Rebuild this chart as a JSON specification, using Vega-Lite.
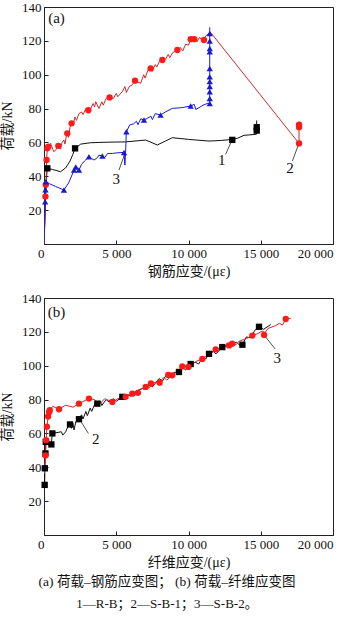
{
  "$schema": "https://vega.github.io/schema/vega-lite/v6.json",
  "padding": {"left": 0, "top": 0, "right": 5, "bottom": 5},
  "background": "white",
  "config": {
    "font": "'Liberation Serif', 'Noto Sans CJK SC', serif",
    "view": {"stroke": "#222", "strokeWidth": 1},
    "axis": {"grid": false, "domainColor": "#222", "tickColor": "#222", "labelFont": "'Liberation Serif', 'Times New Roman', serif", "labelFontSize": 13, "labelColor": "#111", "titleFont": "'Liberation Serif', 'Noto Sans CJK SC', serif", "titleFontSize": 14, "titleFontWeight": "normal", "titleColor": "#111", "tickSize": -4, "labelOverlap": false},
    "axisX": {"labelPadding": 7},
    "axisY": {"labelPadding": 7}
  },
  "title": {"text": "(a) 荷载–钢筋应变图；  (b) 荷载–纤维应变图", "subtitle": "1—R-B；2—S-B-1；3—S-B-2。", "orient": "bottom", "anchor": "middle", "fontSize": 13.5, "fontWeight": "normal", "subtitleFontSize": 13, "subtitlePadding": 10, "offset": 5, "font": "'Liberation Serif', 'Noto Sans CJK SC', serif", "subtitleFont": "'Liberation Serif', 'Noto Sans CJK SC', serif", "color": "#111", "subtitleColor": "#111"},
  "spacing": 12,
  "resolve": {"scale": {"stroke": "independent", "fill": "independent", "shape": "independent"}},
  "datasets": {
    "curveA": [
      {"s":"R-B","x":0,"y":0},{"s":"R-B","x":60,"y":15},{"s":"R-B","x":120,"y":30},{"s":"R-B","x":180,"y":40},{"s":"R-B","x":230,"y":44.7},{"s":"R-B","x":600,"y":44},{"s":"R-B","x":1150,"y":42.7},{"s":"R-B","x":1500,"y":45},{"s":"R-B","x":1800,"y":49},{"s":"R-B","x":2000,"y":53},{"s":"R-B","x":2150,"y":56.5},{"s":"R-B","x":2540,"y":59},{"s":"R-B","x":3200,"y":59.8},{"s":"R-B","x":3800,"y":60},{"s":"R-B","x":4700,"y":60.2},{"s":"R-B","x":5650,"y":60.3},{"s":"R-B","x":6500,"y":61},{"s":"R-B","x":7040,"y":61.4},{"s":"R-B","x":7840,"y":58.5},{"s":"R-B","x":8400,"y":60.8},{"s":"R-B","x":8880,"y":62.8},{"s":"R-B","x":10000,"y":61.8},{"s":"R-B","x":11420,"y":60.8},{"s":"R-B","x":12300,"y":61.2},{"s":"R-B","x":13030,"y":61.8},{"s":"R-B","x":13400,"y":62.5},{"s":"R-B","x":13840,"y":64.2},{"s":"R-B","x":14700,"y":64.8},{"s":"R-B","x":14720,"y":73},
      {"s":"S-B-1","x":0,"y":0},{"s":"S-B-1","x":40,"y":10},{"s":"S-B-1","x":80,"y":20},{"s":"S-B-1","x":115,"y":29},{"s":"S-B-1","x":150,"y":40},{"s":"S-B-1","x":180,"y":49.6},{"s":"S-B-1","x":230,"y":56.5},{"s":"S-B-1","x":300,"y":58},{"s":"S-B-1","x":460,"y":59.4},{"s":"S-B-1","x":600,"y":56},{"s":"S-B-1","x":690,"y":54.5},{"s":"S-B-1","x":850,"y":56},{"s":"S-B-1","x":990,"y":58},{"s":"S-B-1","x":1150,"y":56},{"s":"S-B-1","x":1250,"y":60},{"s":"S-B-1","x":1380,"y":61.4},{"s":"S-B-1","x":1450,"y":59},{"s":"S-B-1","x":1550,"y":64},{"s":"S-B-1","x":1610,"y":65.4},{"s":"S-B-1","x":1700,"y":63},{"s":"S-B-1","x":1800,"y":69},{"s":"S-B-1","x":1910,"y":71.3},{"s":"S-B-1","x":2000,"y":70},{"s":"S-B-1","x":2150,"y":75},{"s":"S-B-1","x":2250,"y":73},{"s":"S-B-1","x":2420,"y":77},{"s":"S-B-1","x":2600,"y":78},{"s":"S-B-1","x":2700,"y":76.5},{"s":"S-B-1","x":2900,"y":80},{"s":"S-B-1","x":3070,"y":79},{"s":"S-B-1","x":3200,"y":79.5},{"s":"S-B-1","x":3400,"y":83},{"s":"S-B-1","x":3500,"y":81},{"s":"S-B-1","x":3580,"y":84},{"s":"S-B-1","x":3800,"y":80},{"s":"S-B-1","x":4000,"y":84},{"s":"S-B-1","x":4100,"y":82},{"s":"S-B-1","x":4300,"y":86},{"s":"S-B-1","x":4540,"y":86.6},{"s":"S-B-1","x":4800,"y":86},{"s":"S-B-1","x":5000,"y":89},{"s":"S-B-1","x":5100,"y":87},{"s":"S-B-1","x":5420,"y":90},{"s":"S-B-1","x":5600,"y":93},{"s":"S-B-1","x":5700,"y":89.5},{"s":"S-B-1","x":5900,"y":93},{"s":"S-B-1","x":6100,"y":94},{"s":"S-B-1","x":6300,"y":96.5},{"s":"S-B-1","x":6500,"y":95.5},{"s":"S-B-1","x":6690,"y":95},{"s":"S-B-1","x":6900,"y":100},{"s":"S-B-1","x":7000,"y":98},{"s":"S-B-1","x":7200,"y":103},{"s":"S-B-1","x":7380,"y":103.7},{"s":"S-B-1","x":7500,"y":102},{"s":"S-B-1","x":7700,"y":106},{"s":"S-B-1","x":7800,"y":104.5},{"s":"S-B-1","x":8000,"y":108},{"s":"S-B-1","x":8190,"y":108.7},{"s":"S-B-1","x":8400,"y":109},{"s":"S-B-1","x":8600,"y":112},{"s":"S-B-1","x":8700,"y":110},{"s":"S-B-1","x":8900,"y":113},{"s":"S-B-1","x":9230,"y":114.6},{"s":"S-B-1","x":9450,"y":116},{"s":"S-B-1","x":9600,"y":114},{"s":"S-B-1","x":9800,"y":118},{"s":"S-B-1","x":10000,"y":117.5},{"s":"S-B-1","x":10150,"y":121},{"s":"S-B-1","x":10300,"y":120},{"s":"S-B-1","x":10500,"y":121},{"s":"S-B-1","x":10600,"y":119.5},{"s":"S-B-1","x":10750,"y":122},{"s":"S-B-1","x":10900,"y":121},{"s":"S-B-1","x":11070,"y":120.5},{"s":"S-B-1","x":11200,"y":123},{"s":"S-B-1","x":11420,"y":124.4},{"s":"S-B-1","x":11530,"y":125},{"s":"S-B-1","x":17650,"y":59.4},{"s":"S-B-1","x":17650,"y":70},
      {"s":"S-B-2","x":0,"y":0},{"s":"S-B-2","x":50,"y":12},{"s":"S-B-2","x":80,"y":25},{"s":"S-B-2","x":100,"y":32},{"s":"S-B-2","x":130,"y":36.8},{"s":"S-B-2","x":400,"y":35.5},{"s":"S-B-2","x":800,"y":34},{"s":"S-B-2","x":1380,"y":31.9},{"s":"S-B-2","x":1700,"y":36},{"s":"S-B-2","x":2000,"y":42},{"s":"S-B-2","x":2080,"y":43.7},{"s":"S-B-2","x":2200,"y":46},{"s":"S-B-2","x":2420,"y":43.7},{"s":"S-B-2","x":2600,"y":47},{"s":"S-B-2","x":2800,"y":49},{"s":"S-B-2","x":3110,"y":51.6},{"s":"S-B-2","x":3300,"y":50.5},{"s":"S-B-2","x":3460,"y":49.6},{"s":"S-B-2","x":3700,"y":51},{"s":"S-B-2","x":3800,"y":52.5},{"s":"S-B-2","x":4040,"y":52},{"s":"S-B-2","x":4200,"y":51},{"s":"S-B-2","x":4400,"y":53.5},{"s":"S-B-2","x":4730,"y":53.5},{"s":"S-B-2","x":5000,"y":53.8},{"s":"S-B-2","x":5540,"y":54.1},{"s":"S-B-2","x":5600,"y":46.6},{"s":"S-B-2","x":5650,"y":55},{"s":"S-B-2","x":5700,"y":66.3},{"s":"S-B-2","x":5930,"y":70.3},{"s":"S-B-2","x":6200,"y":71},{"s":"S-B-2","x":6400,"y":72.5},{"s":"S-B-2","x":6500,"y":70.5},{"s":"S-B-2","x":6700,"y":74},{"s":"S-B-2","x":6920,"y":73.2},{"s":"S-B-2","x":7200,"y":74.5},{"s":"S-B-2","x":7400,"y":75.5},{"s":"S-B-2","x":7500,"y":73.5},{"s":"S-B-2","x":7700,"y":77},{"s":"S-B-2","x":8070,"y":76.2},{"s":"S-B-2","x":8400,"y":78},{"s":"S-B-2","x":8880,"y":80.1},{"s":"S-B-2","x":9500,"y":80.5},{"s":"S-B-2","x":10150,"y":81.5},{"s":"S-B-2","x":10400,"y":82.5},{"s":"S-B-2","x":10500,"y":79.5},{"s":"S-B-2","x":10730,"y":80.5},{"s":"S-B-2","x":11000,"y":82},{"s":"S-B-2","x":11300,"y":83},{"s":"S-B-2","x":11470,"y":83},{"s":"S-B-2","x":11470,"y":124.4},{"s":"S-B-2","x":11470,"y":128}
    ],
    "markA": [
      {"s":"R-B","x":230,"y":44.7},{"s":"R-B","x":2150,"y":56.5},{"s":"R-B","x":13030,"y":61.5},{"s":"R-B","x":14720,"y":67},{"s":"R-B","x":14720,"y":69},
      {"s":"S-B-1","x":100,"y":28},{"s":"S-B-1","x":120,"y":35},{"s":"S-B-1","x":180,"y":49.6},{"s":"S-B-1","x":230,"y":56.5},{"s":"S-B-1","x":300,"y":57.5},{"s":"S-B-1","x":990,"y":58},{"s":"S-B-1","x":1610,"y":65.4},{"s":"S-B-1","x":1910,"y":71.3},{"s":"S-B-1","x":3070,"y":79},{"s":"S-B-1","x":4540,"y":86.6},{"s":"S-B-1","x":6300,"y":96.5},{"s":"S-B-1","x":7380,"y":103.7},{"s":"S-B-1","x":8190,"y":108.7},{"s":"S-B-1","x":9230,"y":114.6},{"s":"S-B-1","x":10150,"y":121},{"s":"S-B-1","x":10400,"y":121},{"s":"S-B-1","x":11070,"y":120.5},{"s":"S-B-1","x":17650,"y":59.4},{"s":"S-B-1","x":17650,"y":69},{"s":"S-B-1","x":17650,"y":70.5},
      {"s":"S-B-2","x":80,"y":25},{"s":"S-B-2","x":100,"y":32},{"s":"S-B-2","x":130,"y":36.8},{"s":"S-B-2","x":1380,"y":31.9},{"s":"S-B-2","x":2080,"y":43.7},{"s":"S-B-2","x":2200,"y":45.5},{"s":"S-B-2","x":2420,"y":43.7},{"s":"S-B-2","x":3110,"y":51.6},{"s":"S-B-2","x":4040,"y":52},{"s":"S-B-2","x":5540,"y":54.1},{"s":"S-B-2","x":5700,"y":66.3},{"s":"S-B-2","x":6920,"y":73.2},{"s":"S-B-2","x":8070,"y":76.2},{"s":"S-B-2","x":10150,"y":81.5},{"s":"S-B-2","x":11470,"y":83},{"s":"S-B-2","x":11470,"y":86},{"s":"S-B-2","x":11470,"y":90},{"s":"S-B-2","x":11470,"y":93},{"s":"S-B-2","x":11470,"y":96},{"s":"S-B-2","x":11470,"y":98.8},{"s":"S-B-2","x":11470,"y":103.7},{"s":"S-B-2","x":11470,"y":113.6},{"s":"S-B-2","x":11470,"y":115.5},{"s":"S-B-2","x":11470,"y":119.9},{"s":"S-B-2","x":11470,"y":124.4}
    ],
    "leadA": [
      {"x":12570,"y":53,"x2":12960,"y2":60.4},
      {"x":17190,"y":49,"x2":17580,"y2":58},
      {"x":5190,"y":43.7,"x2":5600,"y2":53.5}
    ],
    "labA": [
      {"x":12300,"y":49.6,"t":"1"},
      {"x":17020,"y":45,"t":"2"},
      {"x":5000,"y":38.6,"t":"3"},
      {"x":865,"y":133.5,"t":"(a)"}
    ],
    "curveB": [
      {"s":"S-B-1","x":30,"y":28},{"s":"S-B-1","x":46,"y":29.6},{"s":"S-B-1","x":60,"y":39.4},{"s":"S-B-1","x":100,"y":48.2},{"s":"S-B-1","x":120,"y":55},{"s":"S-B-1","x":300,"y":56},{"s":"S-B-1","x":400,"y":54},{"s":"S-B-1","x":510,"y":53.5},{"s":"S-B-1","x":550,"y":58},{"s":"S-B-1","x":580,"y":60},{"s":"S-B-1","x":900,"y":60.5},{"s":"S-B-1","x":1200,"y":61},{"s":"S-B-1","x":1300,"y":59},{"s":"S-B-1","x":1500,"y":61},{"s":"S-B-1","x":1650,"y":64},{"s":"S-B-1","x":1800,"y":65.3},{"s":"S-B-1","x":1900,"y":63},{"s":"S-B-1","x":2000,"y":66},{"s":"S-B-1","x":2080,"y":62},{"s":"S-B-1","x":2200,"y":67},{"s":"S-B-1","x":2420,"y":68.4},{"s":"S-B-1","x":2600,"y":71},{"s":"S-B-1","x":2700,"y":68.5},{"s":"S-B-1","x":2900,"y":73},{"s":"S-B-1","x":3000,"y":70.5},{"s":"S-B-1","x":3200,"y":75},{"s":"S-B-1","x":3300,"y":73},{"s":"S-B-1","x":3500,"y":77},{"s":"S-B-1","x":3690,"y":77.6},{"s":"S-B-1","x":3900,"y":79},{"s":"S-B-1","x":4000,"y":76.5},{"s":"S-B-1","x":4300,"y":80},{"s":"S-B-1","x":4500,"y":78.6},{"s":"S-B-1","x":4800,"y":80.5},{"s":"S-B-1","x":5000,"y":79},{"s":"S-B-1","x":5420,"y":81.6},{"s":"S-B-1","x":5800,"y":83},{"s":"S-B-1","x":6000,"y":82},{"s":"S-B-1","x":6400,"y":85},{"s":"S-B-1","x":6800,"y":86.5},{"s":"S-B-1","x":7000,"y":86},{"s":"S-B-1","x":7300,"y":89},{"s":"S-B-1","x":7500,"y":87.5},{"s":"S-B-1","x":7960,"y":92.4},{"s":"S-B-1","x":8200,"y":91},{"s":"S-B-1","x":8500,"y":95},{"s":"S-B-1","x":8700,"y":93.5},{"s":"S-B-1","x":9000,"y":96},{"s":"S-B-1","x":9340,"y":96.3},{"s":"S-B-1","x":9600,"y":99},{"s":"S-B-1","x":9800,"y":97.5},{"s":"S-B-1","x":10150,"y":101},{"s":"S-B-1","x":10500,"y":102},{"s":"S-B-1","x":10700,"y":101},{"s":"S-B-1","x":11000,"y":105},{"s":"S-B-1","x":11200,"y":104},{"s":"S-B-1","x":11420,"y":107},{"s":"S-B-1","x":11700,"y":108.5},{"s":"S-B-1","x":11900,"y":107},{"s":"S-B-1","x":12340,"y":111},{"s":"S-B-1","x":12700,"y":112},{"s":"S-B-1","x":12900,"y":110.5},{"s":"S-B-1","x":13300,"y":114},{"s":"S-B-1","x":13500,"y":112.5},{"s":"S-B-1","x":13730,"y":112.4},{"s":"S-B-1","x":14000,"y":117},{"s":"S-B-1","x":14300,"y":116.5},{"s":"S-B-1","x":14600,"y":121},{"s":"S-B-1","x":14880,"y":123},{"s":"S-B-1","x":15200,"y":121.5},{"s":"S-B-1","x":15690,"y":124.3},
      {"s":"S-B-2","x":30,"y":36.5},{"s":"S-B-2","x":100,"y":47},{"s":"S-B-2","x":150,"y":56},{"s":"S-B-2","x":200,"y":64},{"s":"S-B-2","x":300,"y":70.8},{"s":"S-B-2","x":400,"y":73.7},{"s":"S-B-2","x":600,"y":76},{"s":"S-B-2","x":1040,"y":74.3},{"s":"S-B-2","x":1500,"y":76.7},{"s":"S-B-2","x":2000,"y":75.5},{"s":"S-B-2","x":2420,"y":77.6},{"s":"S-B-2","x":3110,"y":80.6},{"s":"S-B-2","x":3500,"y":80},{"s":"S-B-2","x":3700,"y":77.6},{"s":"S-B-2","x":3900,"y":77.8},{"s":"S-B-2","x":4200,"y":80.5},{"s":"S-B-2","x":4730,"y":78.6},{"s":"S-B-2","x":5100,"y":80.5},{"s":"S-B-2","x":5650,"y":81.6},{"s":"S-B-2","x":6110,"y":83.5},{"s":"S-B-2","x":6300,"y":82.5},{"s":"S-B-2","x":6500,"y":85.5},{"s":"S-B-2","x":7040,"y":87.5},{"s":"S-B-2","x":7300,"y":87},{"s":"S-B-2","x":7500,"y":90},{"s":"S-B-2","x":7960,"y":90.4},{"s":"S-B-2","x":8300,"y":93},{"s":"S-B-2","x":8500,"y":91.5},{"s":"S-B-2","x":8880,"y":94.3},{"s":"S-B-2","x":9200,"y":96.5},{"s":"S-B-2","x":9570,"y":99.6},{"s":"S-B-2","x":10000,"y":99.5},{"s":"S-B-2","x":10300,"y":101},{"s":"S-B-2","x":10500,"y":102.5},{"s":"S-B-2","x":10960,"y":104},{"s":"S-B-2","x":11300,"y":106},{"s":"S-B-2","x":11600,"y":107.5},{"s":"S-B-2","x":11880,"y":109.6},{"s":"S-B-2","x":12300,"y":110.5},{"s":"S-B-2","x":12600,"y":112},{"s":"S-B-2","x":13030,"y":113},{"s":"S-B-2","x":13300,"y":112.5},{"s":"S-B-2","x":13500,"y":114.5},{"s":"S-B-2","x":14000,"y":116},{"s":"S-B-2","x":14420,"y":117.8},{"s":"S-B-2","x":14800,"y":119},{"s":"S-B-2","x":15100,"y":120.5},{"s":"S-B-2","x":15300,"y":119.5},{"s":"S-B-2","x":15500,"y":122},{"s":"S-B-2","x":16030,"y":123.7},{"s":"S-B-2","x":16300,"y":125},{"s":"S-B-2","x":16500,"y":124},{"s":"S-B-2","x":16730,"y":127.6},{"s":"S-B-2","x":17070,"y":128}
    ],
    "markB": [
      {"s":"S-B-1","x":46,"y":29.6},{"s":"S-B-1","x":60,"y":39.4},{"s":"S-B-1","x":100,"y":48.2},{"s":"S-B-1","x":120,"y":55},{"s":"S-B-1","x":510,"y":53.5},{"s":"S-B-1","x":580,"y":60},{"s":"S-B-1","x":1800,"y":65.3},{"s":"S-B-1","x":2420,"y":68.4},{"s":"S-B-1","x":3690,"y":77.6},{"s":"S-B-1","x":5420,"y":81.6},{"s":"S-B-1","x":9340,"y":96.3},{"s":"S-B-1","x":10150,"y":101},{"s":"S-B-1","x":11420,"y":107},{"s":"S-B-1","x":12340,"y":111},{"s":"S-B-1","x":13730,"y":112.4},{"s":"S-B-1","x":14880,"y":123},
      {"s":"S-B-2","x":100,"y":47},{"s":"S-B-2","x":150,"y":56},{"s":"S-B-2","x":200,"y":64},{"s":"S-B-2","x":280,"y":70},{"s":"S-B-2","x":350,"y":72.5},{"s":"S-B-2","x":400,"y":73.7},{"s":"S-B-2","x":1040,"y":74.3},{"s":"S-B-2","x":2420,"y":77.6},{"s":"S-B-2","x":3110,"y":80.6},{"s":"S-B-2","x":4730,"y":78.6},{"s":"S-B-2","x":5650,"y":81.6},{"s":"S-B-2","x":6110,"y":83.5},{"s":"S-B-2","x":6500,"y":84},{"s":"S-B-2","x":7040,"y":87.5},{"s":"S-B-2","x":7400,"y":89.5},{"s":"S-B-2","x":8000,"y":90},{"s":"S-B-2","x":8600,"y":94.5},{"s":"S-B-2","x":8880,"y":94.3},{"s":"S-B-2","x":9570,"y":99.6},{"s":"S-B-2","x":10000,"y":99.3},{"s":"S-B-2","x":10960,"y":104},{"s":"S-B-2","x":11880,"y":109.6},{"s":"S-B-2","x":12800,"y":112},{"s":"S-B-2","x":13030,"y":113},{"s":"S-B-2","x":14420,"y":117.8},{"s":"S-B-2","x":15230,"y":118.2},{"s":"S-B-2","x":16730,"y":127.6}
    ],
    "leadB": [
      {"x":3070,"y":60,"x2":2540,"y2":67.3},
      {"x":15990,"y":110,"x2":15340,"y2":116.9}
    ],
    "labB": [
      {"x":3580,"y":57,"t":"2"},
      {"x":16150,"y":104.7,"t":"3"},
      {"x":865,"y":132,"t":"(b)"}
    ]
  },
  "vconcat": [
    {
      "width": 289, "height": 237,
      "layer": [
        {
          "data": {"name": "curveA"},
          "mark": {"type": "line", "strokeWidth": 1, "clip": true},
          "encoding": {
            "x": {"field": "x", "type": "quantitative", "scale": {"domain": [0, 20000], "nice": false}, "title": "钢筋应变/(με)", "axis": {"values": [0, 5000, 10000, 15000, 20000], "tickCount": 10, "labelExpr": "datum.value == 0 ? '0' : replace(format(datum.value, ','), ',', ' ')", "labelAlign": {"condition": {"test": "datum.value == 0 || datum.value == 20000", "value": "right"}, "value": "center"}, "titlePadding": 4, "labelOverlap": false}},
            "y": {"field": "y", "type": "quantitative", "scale": {"domain": [0, 140], "nice": false}, "title": "荷载/kN", "axis": {"values": [20, 40, 60, 80, 100, 120, 140], "tickCount": 10, "titlePadding": 7, "labelOverlap": false, "labelFlush": false}},
            "stroke": {"field": "s", "type": "nominal", "scale": {"domain": ["R-B", "S-B-1", "S-B-2"], "range": ["#111111", "#cc2b2b", "#1a1ad0"]}, "legend": null},
            "order": {"value": null}
          }
        },
        {
          "data": {"name": "markA"},
          "mark": {"type": "point", "filled": true, "size": 40, "opacity": 1},
          "encoding": {
            "x": {"field": "x", "type": "quantitative"},
            "y": {"field": "y", "type": "quantitative"},
            "fill": {"field": "s", "type": "nominal", "scale": {"domain": ["R-B", "S-B-1", "S-B-2"], "range": ["#000000", "#ff1a1a", "#1a1ad0"]}, "legend": null},
            "shape": {"field": "s", "type": "nominal", "scale": {"domain": ["R-B", "S-B-1", "S-B-2"], "range": ["square", "circle", "triangle-up"]}, "legend": null}
          }
        },
        {
          "data": {"name": "leadA"},
          "mark": {"type": "rule", "color": "#222", "strokeWidth": 0.8},
          "encoding": {
            "x": {"field": "x", "type": "quantitative"},
            "y": {"field": "y", "type": "quantitative"},
            "x2": {"field": "x2"},
            "y2": {"field": "y2"}
          }
        },
        {
          "data": {"name": "labA"},
          "mark": {"type": "text", "fontSize": 15, "font": "'Liberation Serif', serif", "color": "#111"},
          "encoding": {
            "x": {"field": "x", "type": "quantitative"},
            "y": {"field": "y", "type": "quantitative"},
            "text": {"field": "t"}
          }
        }
      ]
    },
    {
      "width": 289, "height": 237,
      "layer": [
        {
          "data": {"name": "curveB"},
          "mark": {"type": "line", "strokeWidth": 1, "clip": true},
          "encoding": {
            "x": {"field": "x", "type": "quantitative", "scale": {"domain": [0, 20000], "nice": false}, "title": "纤维应变/(με)", "axis": {"values": [0, 5000, 10000, 15000, 20000], "tickCount": 10, "labelExpr": "datum.value == 0 ? '0' : replace(format(datum.value, ','), ',', ' ')", "labelAlign": {"condition": {"test": "datum.value == 0 || datum.value == 20000", "value": "right"}, "value": "center"}, "titlePadding": 4, "labelOverlap": false}},
            "y": {"field": "y", "type": "quantitative", "scale": {"domain": [0, 140], "nice": false}, "title": "荷载/kN", "axis": {"values": [20, 40, 60, 80, 100, 120, 140], "tickCount": 10, "titlePadding": 7, "labelOverlap": false, "labelFlush": false}},
            "stroke": {"field": "s", "type": "nominal", "scale": {"domain": ["S-B-1", "S-B-2"], "range": ["#111111", "#cc2b2b"]}, "legend": null},
            "order": {"value": null}
          }
        },
        {
          "data": {"name": "markB"},
          "mark": {"type": "point", "filled": true, "size": 40, "opacity": 1},
          "encoding": {
            "x": {"field": "x", "type": "quantitative"},
            "y": {"field": "y", "type": "quantitative"},
            "fill": {"field": "s", "type": "nominal", "scale": {"domain": ["S-B-1", "S-B-2"], "range": ["#000000", "#ff1a1a"]}, "legend": null},
            "shape": {"field": "s", "type": "nominal", "scale": {"domain": ["S-B-1", "S-B-2"], "range": ["square", "circle"]}, "legend": null}
          }
        },
        {
          "data": {"name": "leadB"},
          "mark": {"type": "rule", "color": "#222", "strokeWidth": 0.8},
          "encoding": {
            "x": {"field": "x", "type": "quantitative"},
            "y": {"field": "y", "type": "quantitative"},
            "x2": {"field": "x2"},
            "y2": {"field": "y2"}
          }
        },
        {
          "data": {"name": "labB"},
          "mark": {"type": "text", "fontSize": 15, "font": "'Liberation Serif', serif", "color": "#111"},
          "encoding": {
            "x": {"field": "x", "type": "quantitative"},
            "y": {"field": "y", "type": "quantitative"},
            "text": {"field": "t"}
          }
        }
      ]
    }
  ]
}
